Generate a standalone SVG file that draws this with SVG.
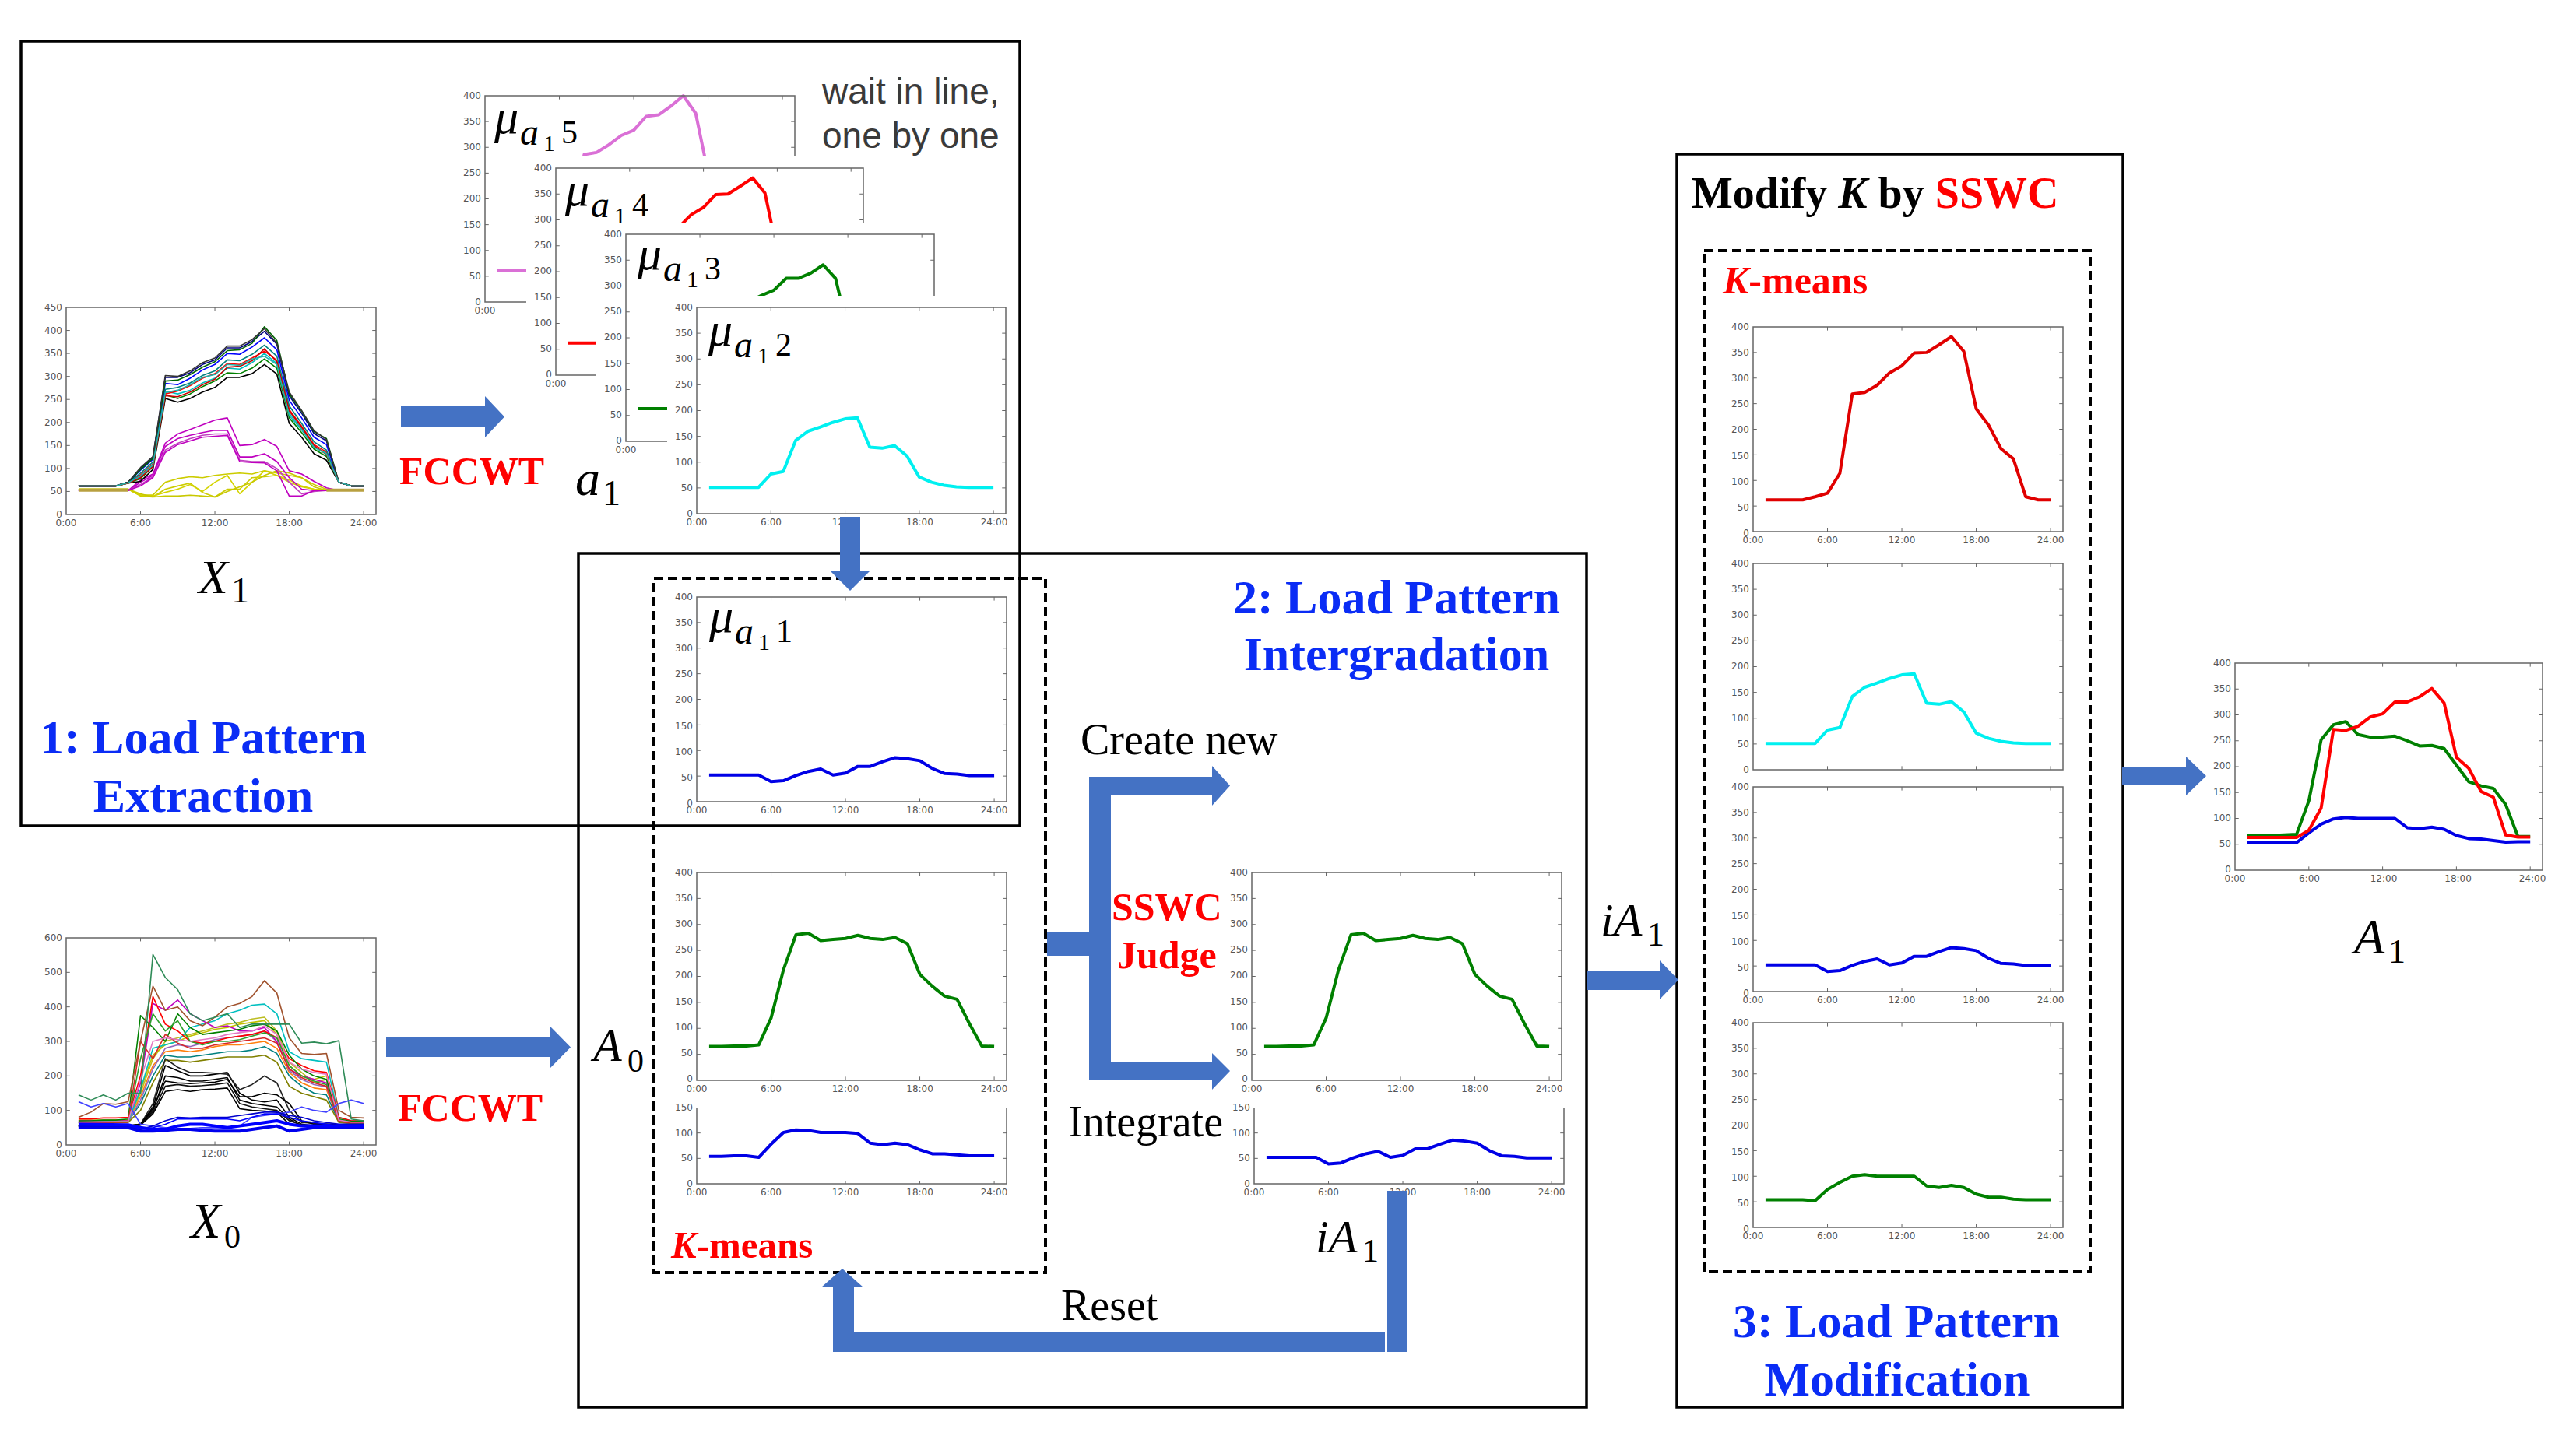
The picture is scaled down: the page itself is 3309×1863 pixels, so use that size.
<svg xmlns="http://www.w3.org/2000/svg" width="3309" height="1863" viewBox="0 0 3309 1863">
<style>
.tl{font-family:"DejaVu Sans",sans-serif;font-size:12px;fill:#555}
.fr{fill:none;stroke:#666;stroke-width:1.5}
.ln{fill:none;stroke-width:1.6;vector-effect:non-scaling-stroke;stroke-linejoin:round}
.lw{fill:none;stroke-width:4;vector-effect:non-scaling-stroke;stroke-linejoin:round}
.box{fill:none;stroke:#000;stroke-width:3.5}
.dash{fill:none;stroke:#000;stroke-width:4;stroke-dasharray:12 6}
.arr{fill:#4472c4}
.mi{font-family:"Liberation Serif",serif;font-style:italic;fill:#000}
.mr{font-family:"Liberation Serif",serif;fill:#000}
.ttl{font-family:"Liberation Serif",serif;font-weight:bold;font-size:62px;fill:#0a2cf5;text-anchor:middle}
.red{font-family:"Liberation Serif",serif;font-weight:bold;fill:#f00}
.txt{font-family:"Liberation Serif",serif;font-size:56px;fill:#000}
</style>
<defs>
<path id="tk400" fill="none" stroke="#666" stroke-width="1" vector-effect="non-scaling-stroke" d="M0,50h.3M0,100h.3M0,150h.3M0,200h.3M0,250h.3M0,300h.3M0,350h.3M25,50h-.3M25,100h-.3M25,150h-.3M25,200h-.3M25,250h-.3M25,300h-.3M25,350h-.3M6,0v7M12,0v7M18,0v7M24,0v7M6,400v-7M12,400v-7M18,400v-7M24,400v-7"/>
<path id="tk450" fill="none" stroke="#666" stroke-width="1" vector-effect="non-scaling-stroke" d="M0,50h.3M0,100h.3M0,150h.3M0,200h.3M0,250h.3M0,300h.3M0,350h.3M0,400h.3M25,50h-.3M25,100h-.3M25,150h-.3M25,200h-.3M25,250h-.3M25,300h-.3M25,350h-.3M25,400h-.3M6,0v8M12,0v8M18,0v8M24,0v8M6,450v-8M12,450v-8M18,450v-8M24,450v-8"/>
<path id="tk600" fill="none" stroke="#666" stroke-width="1" vector-effect="non-scaling-stroke" d="M0,100h.3M0,200h.3M0,300h.3M0,400h.3M0,500h.3M25,100h-.3M25,200h-.3M25,300h-.3M25,400h-.3M25,500h-.3M6,0v10M12,0v10M18,0v10M24,0v10M6,600v-10M12,600v-10M18,600v-10M24,600v-10"/>
<path id="tk150" fill="none" stroke="#666" stroke-width="1" vector-effect="non-scaling-stroke" d="M0,50h.3M0,100h.3M25,50h-.3M25,100h-.3M6,0v6M12,0v6M18,0v6M24,0v6"/>
<g id="yl400" class="tl" text-anchor="end"><text x="-5" y="269">0</text><text x="-5" y="236">50</text><text x="-5" y="203">100</text><text x="-5" y="170">150</text><text x="-5" y="136">200</text><text x="-5" y="103">250</text><text x="-5" y="70">300</text><text x="-5" y="37">350</text><text x="-5" y="4">400</text></g>
<g id="yl450" class="tl" text-anchor="end"><text x="-5" y="270">0</text><text x="-5" y="240">50</text><text x="-5" y="211">100</text><text x="-5" y="181">150</text><text x="-5" y="152">200</text><text x="-5" y="122">250</text><text x="-5" y="93">300</text><text x="-5" y="63">350</text><text x="-5" y="34">400</text><text x="-5" y="4">450</text></g>
<g id="yl600" class="tl" text-anchor="end"><text x="-5" y="270">0</text><text x="-5" y="226">100</text><text x="-5" y="181">200</text><text x="-5" y="137">300</text><text x="-5" y="93">400</text><text x="-5" y="48">500</text><text x="-5" y="4">600</text></g>
<g id="yl150" class="tl" text-anchor="end"><text x="-5" y="102">0</text><text x="-5" y="69">50</text><text x="-5" y="37">100</text><text x="-5" y="4">150</text></g>
<g id="xl" class="tl" text-anchor="middle"><text x="0">0:00</text><text x="95.5">6:00</text><text x="191">12:00</text><text x="286.6">18:00</text><text x="382">24:00</text></g>
</defs>
<rect width="3309" height="1863" fill="#fff"/>

<!-- Stage 1 -->
<g id="stage1-box"><rect class="box" x="27" y="53" width="1283" height="1008"/></g>

<g id="chart-x1">
<svg x="85" y="395" width="398" height="266" viewBox="0 0 25 450" preserveAspectRatio="none" overflow="visible">
<g transform="matrix(1 0 0 -1 0 450)">
<use href="#tk450"/>
<polyline class="ln" stroke="#cccc00" points="1,55 5,55 6,42 7,42 8,70 9,78 10,82 11,80 12,85 13,88 14,90 15,88 16,95 17,90 18,85 19,80 20,65 21,55 22,52 24,52"/>
<polyline class="ln" stroke="#cccc00" points="1,55 5,55 6,40 7,38 8,55 9,62 10,68 11,48 12,38 13,55 14,55 15,80 16,82 17,85 18,70 19,60 20,55 22,52 24,52"/>
<polyline class="ln" stroke="#d4d400" points="1,55 5,55 6,42 7,40 8,48 9,55 10,65 11,50 12,70 13,85 14,45 15,70 16,95 17,85 18,75 19,62 20,55 22,52 24,52"/>
<polyline class="ln" stroke="#c8c800" points="1,55 5,55 6,45 7,38 8,40 9,40 10,42 11,40 12,38 13,50 14,60 15,70 16,85 17,95 18,90 19,80 20,60 21,52 24,52"/>
<polyline class="ln" stroke="#bf00bf" points="1,52 5,52 6,75 7,88 8,155 9,175 10,185 11,195 12,205 13,210 14,150 15,152 16,163 17,148 18,95 19,88 20,72 21,58 22,52 24,52"/>
<polyline class="ln" stroke="#bf00bf" points="1,52 5,52 6,70 7,85 8,148 9,165 10,172 11,178 12,183 13,183 14,125 15,125 16,132 17,115 18,80 19,55 20,52 24,52"/>
<polyline class="ln" stroke="#c040c0" points="1,52 5,52 6,65 7,82 8,140 9,155 10,165 11,172 12,175 13,175 14,118 15,115 16,115 17,100 18,70 19,45 20,50 21,52 24,52"/>
<polyline class="ln" stroke="#bf00bf" points="1,52 5,52 6,62 7,80 8,135 9,152 10,160 11,168 12,170 13,172 14,115 15,113 16,112 17,95 18,40 19,40 20,52 24,52"/>
<polyline class="lw" stroke="#b8a040" points="1,53 5,53"/>
<polyline class="lw" stroke="#b8a040" points="21,53 24,53"/>
<polyline class="ln" stroke="#000" points="1,62 4,62 5,68 6,72 7,98 8,252 9,244 10,252 11,266 12,276 13,298 14,298 15,306 16,326 17,305 18,198 19,168 20,132 21,118 22,70 23,62 24,62"/>
<polyline class="ln" stroke="#008000" points="1,62 4,62 5,68 6,78 7,104 8,260 9,252 10,262 11,278 12,290 13,308 14,306 15,318 16,338 17,318 18,210 19,178 20,142 21,126 22,70 23,62 24,62"/>
<polyline class="ln" stroke="#00bfbf" points="1,62 4,62 5,69 6,82 7,106 8,268 9,262 10,270 11,286 12,296 13,318 14,316 15,330 16,350 17,328 18,220 19,186 20,148 21,133 22,70 23,62 24,62"/>
<polyline class="ln" stroke="#ff0000" points="1,62 4,62 5,69 6,86 7,110 8,262 9,268 10,280 11,296 12,306 13,328 14,326 15,340 16,355 17,335 18,228 19,192 20,152 21,136 22,70 23,62 24,62"/>
<polyline class="ln" stroke="#008080" points="1,62 4,62 5,69 6,90 7,114 8,272 9,276 10,286 11,302 12,312 13,336 14,334 15,348 16,368 17,344 18,236 19,198 20,158 21,140 22,70 23,62 24,62"/>
<polyline class="ln" stroke="#0000ff" points="1,62 4,62 5,70 6,96 7,120 8,285 9,282 10,296 11,314 12,326 13,350 14,348 15,364 16,384 17,358 18,248 19,210 20,168 21,152 22,70 23,62 24,62"/>
<polyline class="ln" stroke="#000080" points="1,62 4,62 5,70 6,100 7,125 8,298 9,298 10,308 11,326 12,336 13,362 14,362 15,376 16,398 17,370 18,258 19,220 20,176 21,160 22,70 23,62 24,62"/>
<polyline class="ln" stroke="#006400" points="1,62 4,62 5,70 6,98 7,122 8,290 9,292 10,304 11,320 12,332 13,356 14,358 15,372 16,408 17,378 18,262 19,225 20,180 21,165 22,70 23,62 24,62"/>
<polyline class="ln" stroke="#333" points="1,62 4,62 5,70 6,102 7,126 8,302 9,300 10,312 11,330 12,340 13,366 14,366 15,380 16,404 17,372 18,266 19,226 20,182 21,163 22,70 23,62 24,62"/>
<polyline class="ln" stroke="#cc0000" points="1,62 4,62 5,68 6,80 7,104 8,258 9,256 10,266 11,282 12,294 13,320 14,322 15,334 16,360 17,332 18,225 19,190 20,150 21,130 22,70 23,62 24,62"/>
<polyline class="ln" stroke="#20b2aa" points="1,62 4,62 5,69 6,84 7,108 8,265 9,270 10,282 11,298 12,304 13,326 14,324 15,338 16,344 17,326 18,215 19,184 20,146 21,132 22,70 23,62 24,62"/>
</g></svg>
<rect class="fr" x="85" y="395" width="398" height="266"/>
<use href="#yl450" x="85" y="395"/><use href="#xl" x="85" y="676"/>
</g>

<g id="chart-mu5">
<svg x="623" y="123" width="398" height="265" viewBox="0 0 25 400" preserveAspectRatio="none" overflow="visible">
<g transform="matrix(1 0 0 -1 0 400)"><use href="#tk400"/>
<polyline class="lw" stroke="#da70d6" points="1,62 2,62 3,62 4,62 5,68 6,75 7,120 8,286 9,290 10,305 11,323 12,333 13,360 14,363 15,380 16,400 17,366 18,250 19,215 20,170 21,150 22,70 23,62 24,62"/>
</g></svg>
<rect class="fr" x="623" y="123" width="398" height="265"/>
<use href="#yl400" x="623" y="123"/><use href="#xl" x="623" y="403"/>
<text class="mi" x="635" y="171" font-size="62">μ</text><text class="mi" x="668" y="186" font-size="48">a</text><text class="mr" x="698" y="194" font-size="30">1</text><text class="mr" x="721" y="184" font-size="42">5</text>
</g>

<g id="chart-mu4">
<rect x="676" y="201" width="444" height="304" fill="#fff"/>
<svg x="714" y="216" width="395" height="266" viewBox="0 0 25 400" preserveAspectRatio="none" overflow="visible">
<g transform="matrix(1 0 0 -1 0 400)"><use href="#tk400"/>
<polyline class="lw" stroke="#f00" points="1,62 2,62 3,62 4,62 5,68 6,75 7,114 8,269 9,272 10,286 11,310 12,324 13,349 14,350 15,365 16,381 17,352 18,240 19,208 20,162 21,142 22,68 23,62 24,62"/>
</g></svg>
<rect class="fr" x="714" y="216" width="395" height="266"/>
<use href="#yl400" x="714" y="216"/><use href="#xl" x="714" y="497"/>
<text class="mi" x="726" y="264" font-size="62">μ</text><text class="mi" x="759" y="279" font-size="48">a</text><text class="mr" x="789" y="287" font-size="30">1</text><text class="mr" x="812" y="277" font-size="42">4</text>
</g>

<g id="chart-mu3">
<rect x="766" y="286" width="444" height="309" fill="#fff"/>
<svg x="804" y="301" width="396" height="266" viewBox="0 0 25 400" preserveAspectRatio="none" overflow="visible">
<g transform="matrix(1 0 0 -1 0 400)"><use href="#tk400"/>
<polyline class="lw" stroke="#008000" points="1,63 2,63 3,63 4,63 5,68 6,90 7,120 8,255 9,260 10,270 11,282 12,292 13,315 14,315 15,325 16,341 17,315 18,215 19,180 20,145 21,128 22,68 23,63 24,63"/>
</g></svg>
<rect class="fr" x="804" y="301" width="396" height="266"/>
<use href="#yl400" x="804" y="301"/><use href="#xl" x="804" y="582"/>
<text class="mi" x="819" y="346" font-size="62">μ</text><text class="mi" x="852" y="361" font-size="48">a</text><text class="mr" x="882" y="369" font-size="30">1</text><text class="mr" x="905" y="359" font-size="42">3</text>
</g>

<g id="chart-mu2">
<rect x="857" y="380" width="443" height="300" fill="#fff"/>
<svg x="895" y="395" width="397" height="265" viewBox="0 0 25 400" preserveAspectRatio="none" overflow="visible">
<g transform="matrix(1 0 0 -1 0 400)"><use href="#tk400"/>
<polyline class="lw" stroke="#00f0f0" points="1,51 2,51 3,51 4,51 5,51 6,77 7,82 8,142 9,160 10,168 11,177 12,184 13,186 14,129 15,127 16,132 17,112 18,71 19,61 20,55 21,52 22,51 23,51 24,51"/>
</g></svg>
<rect class="fr" x="895" y="395" width="397" height="265"/>
<use href="#yl400" x="895" y="395"/><use href="#xl" x="895" y="675"/>
<text class="mi" x="910" y="444" font-size="62">μ</text><text class="mi" x="943" y="459" font-size="48">a</text><text class="mr" x="973" y="467" font-size="30">1</text><text class="mr" x="996" y="457" font-size="42">2</text>
</g>

<!-- Stage 2 -->
<g id="stage2-box"><rect class="box" x="743" y="711" width="1295" height="1097" stroke-width="3"/></g>
<g id="kmeans-box"><rect class="dash" x="840" y="743" width="503" height="892"/>
<text class="red" x="862" y="1616" font-size="49"><tspan font-style="italic">K</tspan>-means</text></g>

<g id="chart-mu1">
<svg x="895" y="767" width="398" height="263" viewBox="0 0 25 400" preserveAspectRatio="none" overflow="visible">
<g transform="matrix(1 0 0 -1 0 400)"><use href="#tk400"/>
<polyline class="lw" stroke="#0000e6" points="1,52 2,52 3,52 4,52 5,52 6,39 7,41 8,51 9,59 10,64 11,52 12,56 13,69 14,69 15,78 16,86 17,84 18,80 19,65 20,55 21,54 22,51 23,51 24,51"/>
</g></svg>
<rect class="fr" x="895" y="767" width="398" height="263"/>
<use href="#yl400" x="895" y="767"/><use href="#xl" x="895" y="1045"/>
<text class="mi" x="911" y="812" font-size="62">μ</text><text class="mi" x="944" y="827" font-size="48">a</text><text class="mr" x="974" y="835" font-size="30">1</text><text class="mr" x="997" y="825" font-size="42">1</text>
</g>

<g id="chart-a0-green">
<svg x="895" y="1121" width="398" height="267" viewBox="0 0 25 400" preserveAspectRatio="none" overflow="visible">
<g transform="matrix(1 0 0 -1 0 400)"><use href="#tk400"/>
<polyline class="lw" stroke="#008000" points="1,65 2,65 3,66 4,66 5,68 6,120 7,213 8,280 9,283 10,269 11,271 12,273 13,279 14,273 15,271 16,275 17,263 18,204 19,181 20,162 21,156 22,109 23,66 24,65"/>
</g></svg>
<rect class="fr" x="895" y="1121" width="398" height="267"/>
<use href="#yl400" x="895" y="1121"/><use href="#xl" x="895" y="1403"/>
</g>

<g id="chart-a0-blue">
<svg x="895" y="1423" width="398" height="98" viewBox="0 0 25 150" preserveAspectRatio="none" overflow="visible">
<g transform="matrix(1 0 0 -1 0 150)"><use href="#tk150"/>
<polyline class="lw" stroke="#0000e6" points="1,54 2,54 3,55 4,55 5,52 6,78 7,101 8,106 9,105 10,101 11,101 12,101 13,99 14,80 15,77 16,80 17,77 18,67 19,59 20,59 21,57 22,55 23,55 24,55"/>
</g></svg>
<path class="fr" d="M895,1423V1521H1293V1423"/>
<use href="#yl150" x="895" y="1423"/><use href="#xl" x="895" y="1536"/>
</g>

<g id="chart-ia1-green">
<svg x="1608" y="1121" width="398" height="267" viewBox="0 0 25 400" preserveAspectRatio="none" overflow="visible">
<g transform="matrix(1 0 0 -1 0 400)"><use href="#tk400"/>
<polyline class="lw" stroke="#008000" points="1,65 2,65 3,66 4,66 5,68 6,120 7,213 8,280 9,283 10,269 11,271 12,273 13,279 14,273 15,271 16,275 17,263 18,204 19,181 20,162 21,156 22,109 23,66 24,65"/>
</g></svg>
<rect class="fr" x="1608" y="1121" width="398" height="267"/>
<use href="#yl400" x="1608" y="1121"/><use href="#xl" x="1608" y="1403"/>
</g>

<g id="chart-ia1-blue">
<svg x="1611" y="1423" width="398" height="98" viewBox="0 0 25 150" preserveAspectRatio="none" overflow="visible">
<g transform="matrix(1 0 0 -1 0 150)"><use href="#tk150"/>
<polyline class="lw" stroke="#0000e6" points="1,52 2,52 3,52 4,52 5,52 6,39 7,41 8,51 9,59 10,64 11,52 12,56 13,69 14,69 15,78 16,86 17,84 18,80 19,65 20,55 21,54 22,51 23,51 24,51"/>
</g></svg>
<path class="fr" d="M1611,1423V1521H2009V1423"/>
<use href="#yl150" x="1611" y="1423"/><use href="#xl" x="1611" y="1536"/>
</g>

<!-- Stage 3 -->
<g id="stage3-box"><rect class="box" x="2154" y="198" width="573" height="1610" stroke-width="3.5"/>
<text x="2173" y="267" font-family="Liberation Serif, serif" font-weight="bold" font-size="56"><tspan>Modify </tspan><tspan font-style="italic">K</tspan><tspan> by </tspan><tspan fill="#f00">SSWC</tspan></text></g>
<g id="kmeans-box-2"><rect class="dash" x="2189" y="322" width="496" height="1312"/>
<text class="red" x="2213" y="377" font-size="50"><tspan font-style="italic">K</tspan>-means</text></g>

<g id="chart-red">
<svg x="2252" y="420" width="398" height="263" viewBox="0 0 25 400" preserveAspectRatio="none" overflow="visible">
<g transform="matrix(1 0 0 -1 0 400)"><use href="#tk400"/>
<polyline class="lw" stroke="#e00000" points="1,62 2,62 3,62 4,62 5,68 6,75 7,114 8,269 9,272 10,286 11,310 12,324 13,349 14,350 15,365 16,381 17,352 18,240 19,208 20,162 21,142 22,68 23,62 24,62"/>
</g></svg>
<rect class="fr" x="2252" y="420" width="398" height="263"/>
<use href="#yl400" x="2252" y="420"/><use href="#xl" x="2252" y="698"/>
</g>

<g id="chart-cyan">
<svg x="2252" y="724" width="398" height="265" viewBox="0 0 25 400" preserveAspectRatio="none" overflow="visible">
<g transform="matrix(1 0 0 -1 0 400)"><use href="#tk400"/>
<polyline class="lw" stroke="#00f0f0" points="1,51 2,51 3,51 4,51 5,51 6,77 7,82 8,142 9,160 10,168 11,177 12,184 13,186 14,129 15,127 16,132 17,112 18,71 19,61 20,55 21,52 22,51 23,51 24,51"/>
</g></svg>
<rect class="fr" x="2252" y="724" width="398" height="265"/>
<use href="#yl400" x="2252" y="724"/>
</g>

<g id="chart-blue">
<svg x="2252" y="1011" width="398" height="263" viewBox="0 0 25 400" preserveAspectRatio="none" overflow="visible">
<g transform="matrix(1 0 0 -1 0 400)"><use href="#tk400"/>
<polyline class="lw" stroke="#0000e6" points="1,52 2,52 3,52 4,52 5,52 6,39 7,41 8,51 9,59 10,64 11,52 12,56 13,69 14,69 15,78 16,86 17,84 18,80 19,65 20,55 21,54 22,51 23,51 24,51"/>
</g></svg>
<rect class="fr" x="2252" y="1011" width="398" height="263"/>
<use href="#yl400" x="2252" y="1011"/><use href="#xl" x="2252" y="1289"/>
</g>

<g id="chart-green">
<svg x="2252" y="1314" width="398" height="263" viewBox="0 0 25 400" preserveAspectRatio="none" overflow="visible">
<g transform="matrix(1 0 0 -1 0 400)"><use href="#tk400"/>
<polyline class="lw" stroke="#008000" points="1,54 2,54 3,54 4,54 5,52 6,74 7,88 8,100 9,103 10,100 11,100 12,100 13,100 14,81 15,78 16,82 17,78 18,65 19,59 20,59 21,55 22,54 23,54 24,54"/>
</g></svg>
<rect class="fr" x="2252" y="1314" width="398" height="263"/>
<use href="#yl400" x="2252" y="1314"/><use href="#xl" x="2252" y="1592"/>
</g>

<g id="chart-a1">
<svg x="2871" y="852" width="395" height="266" viewBox="0 0 25 400" preserveAspectRatio="none" overflow="visible">
<g transform="matrix(1 0 0 -1 0 400)"><use href="#tk400"/>
<polyline class="lw" stroke="#0000e6" points="1,54 2,54 3,54 4,54 5,53 6,72 7,89 8,99 9,102 10,100 11,100 12,100 13,100 14,82 15,80 16,83 17,79 18,67 19,61 20,60 21,57 22,54 23,55 24,55"/>
<polyline class="lw" stroke="#008000" points="1,66 2,66 3,67 4,68 5,69 6,134 7,252 8,281 9,287 10,262 11,257 12,257 13,259 14,250 15,240 16,241 17,235 18,203 19,171 20,163 21,158 22,127 23,65 24,65"/>
<polyline class="lw" stroke="#f00" points="1,63 2,63 3,63 4,63 5,63 6,77 7,120 8,272 9,270 10,278 11,296 12,302 13,325 14,325 15,335 16,351 17,323 18,218 19,197 20,152 21,141 22,68 23,64 24,64"/>
</g></svg>
<rect class="fr" x="2871" y="852" width="395" height="266"/>
<use href="#yl400" x="2871" y="852"/><use href="#xl" x="2871" y="1133"/>
</g>

<g id="chart-x0">
<svg x="85" y="1205" width="398" height="266" viewBox="0 0 25 600" preserveAspectRatio="none" overflow="visible">
<g transform="matrix(1 0 0 -1 0 600)"><use href="#tk600"/>
<polyline class="ln" stroke="#ff7f0e" points="1,68 5,70 6,140 7,230 8,270 9,275 10,270 11,275 12,285 13,290 14,290 15,295 16,300 17,280 18,210 19,180 20,165 21,160 22,70 23,66 24,66"/>
<polyline class="ln" stroke="#008080" points="1,66 5,68 6,120 7,200 8,260 9,255 10,255 11,260 12,265 13,270 14,270 15,275 16,285 17,265 18,200 19,170 20,150 21,145 22,68 23,62 24,62"/>
<polyline class="ln" stroke="#9467bd" points="1,64 5,66 6,130 7,220 8,280 9,290 10,285 11,295 12,305 13,310 14,315 15,320 16,330 17,300 18,215 19,190 20,175 21,168 22,66 23,62 24,62"/>
<polyline class="ln" stroke="#808000" points="1,65 5,65 6,100 7,180 8,245 9,245 10,240 11,245 12,250 13,255 14,255 15,255 16,260 17,240 18,170 19,150 20,140 21,130 22,65 23,62 24,62"/>
<polyline class="ln" stroke="#bcbd22" points="1,72 5,72 6,150 7,250 8,300 9,310 10,320 11,330 12,340 13,350 14,355 15,365 16,370 17,330 18,240 19,210 20,180 21,190 22,75 23,68 24,68"/>
<polyline class="ln" stroke="#c0c000" points="1,70 5,72 6,160 7,260 8,290 9,300 10,315 11,325 12,335 13,340 14,350 15,355 16,360 17,320 18,230 19,200 20,190 21,200 22,72 23,68 24,68"/>
<polyline class="ln" stroke="#bf00bf" points="1,70 5,70 6,180 7,410 8,390 9,420 10,380 11,360 12,340 13,345 14,330 15,330 16,340 17,300 18,220 19,200 20,190 21,180 22,70 23,65 24,65"/>
<polyline class="ln" stroke="#00bfbf" points="1,65 5,68 6,160 7,280 8,290 9,300 10,340 11,350 12,360 13,380 14,390 15,405 16,408 17,380 18,270 19,250 20,245 21,240 22,80 23,70 24,70"/>
<polyline class="ln" stroke="#ff0000" points="1,75 2,75 3,78 4,78 5,80 6,200 7,430 8,350 9,330 10,300 11,295 12,300 13,310 14,315 15,320 16,330 17,310 18,250 19,230 20,215 21,210 22,80 23,70 24,70"/>
<polyline class="ln" stroke="#008000" points="1,70 2,70 3,72 4,72 5,75 6,375 7,340 8,300 9,380 10,340 11,320 12,325 13,330 14,335 15,345 16,350 17,330 18,260 19,220 20,200 21,190 22,75 23,68 24,68"/>
<polyline class="ln" stroke="#2ca02c" points="1,66 5,68 6,250 7,380 8,330 9,360 10,300 11,290 12,300 13,300 14,305 15,315 16,325 17,310 18,230 19,200 20,185 21,175 22,70 23,64 24,64"/>
<polyline class="ln" stroke="#d62728" points="1,64 5,66 6,300 7,250 8,320 9,295 10,280 11,280 12,290 13,295 14,300 15,305 16,310 17,295 18,220 19,195 20,180 21,170 22,68 23,64 24,64"/>
<polyline class="ln" stroke="#e377c2" points="1,66 5,68 6,190 7,300 8,310 9,305 10,300 11,305 12,310 13,320 14,325 15,330 16,345 17,320 18,240 19,220 20,210 21,205 22,72 23,66 24,66"/>
<polyline class="ln" stroke="#a0522d" points="1,80 2,95 3,120 4,118 5,125 6,300 7,460 8,390 9,400 10,360 11,345 12,370 13,400 14,410 15,430 16,476 17,440 18,310 19,265 20,262 21,265 22,100 23,80 24,78"/>
<polyline class="ln" stroke="#2e8b57" points="1,145 2,130 3,145 4,130 5,150 6,150 7,552 8,485 9,450 10,380 11,360 12,370 13,380 14,340 15,350 16,350 17,350 18,350 19,295 20,298 21,293 22,302 23,75 24,70"/>
<polyline class="ln" stroke="#000" points="1,55 5,55 6,60 7,110 8,230 9,215 10,200 11,200 12,205 13,210 14,150 15,130 16,125 17,130 18,80 19,60 20,55 24,55"/>
<polyline class="ln" stroke="#000" points="1,55 5,55 6,58 7,100 8,200 9,195 10,185 11,185 12,190 13,195 14,130 15,120 16,115 17,110 18,75 19,55 24,55"/>
<polyline class="ln" stroke="#111" points="1,55 5,55 6,58 7,95 8,170 9,175 10,170 11,172 12,175 13,180 14,120 15,110 16,105 17,100 18,70 19,58 24,55"/>
<polyline class="ln" stroke="#000" points="1,55 5,55 6,57 7,90 8,155 9,160 10,155 11,160 12,162 13,165 14,105 15,100 16,98 17,95 18,60 19,55 24,55"/>
<polyline class="ln" stroke="#222" points="1,55 5,55 6,60 7,120 8,250 9,225 10,210 11,210 12,208 13,205 14,160 15,175 16,200 17,180 18,100 19,65 24,55"/>
<polyline class="ln" stroke="#000" points="1,55 5,55 6,60 7,105 8,185 9,180 10,178 11,180 12,182 13,190 14,140 15,140 16,150 17,145 18,120 19,70 20,60 24,55"/>
<polyline class="ln" stroke="#4040ff" points="1,125 2,110 3,120 4,110 5,120 6,60 7,55 8,50 9,45 10,48 11,50 12,50 13,50 14,55 15,80 16,85 17,90 18,95 19,110 20,100 21,95 22,120 23,130 24,120"/>
<polyline class="ln" stroke="#0000ff" points="1,50 5,52 6,45 7,50 8,60 9,75 10,75 11,75 12,75 13,75 14,70 15,80 16,90 17,90 18,80 19,70 20,65 21,60 22,55 24,55"/>
<polyline class="lw" stroke="#0000ee" points="1,50 5,50 6,40 7,40 8,42 9,45 10,45 11,42 12,40 13,40 14,40 15,45 16,50 17,55 18,40 19,45 20,50 21,52 22,52 24,52"/>
<polyline class="ln" stroke="#0000cc" points="1,55 5,55 6,45 7,55 8,70 9,80 10,78 11,80 12,80 13,80 14,85 15,90 16,95 17,95 18,85 19,80 20,70 21,65 22,60 24,60"/>
<polyline class="lw" stroke="#0000ff" points="1,60 5,58 6,50 7,45 8,45 9,55 10,60 11,60 12,55 13,50 14,55 15,60 16,65 17,70 18,60 19,55 20,55 24,55"/>
</g></svg>
<rect class="fr" x="85" y="1205" width="398" height="266"/>
<use href="#yl600" x="85" y="1205"/><use href="#xl" x="85" y="1486"/>
</g>

<!-- Connectors -->
<g id="connectors">
<polygon class="arr" points="515,522 623,522 623,509 648,535.5 623,562 623,549 515,549"/>
<polygon class="arr" points="1079,664 1105,664 1105,733 1118,733 1092,759 1066,733 1079,733"/>
<polygon class="arr" points="496,1333 707,1333 707,1319 733,1345.5 707,1372 707,1358 496,1358"/>
<rect class="arr" x="1345" y="1198" width="56" height="30"/>
<path class="arr" d="M1399,998H1557V984L1580,1009.5L1557,1035V1021H1427V1365H1557V1353L1580,1376L1557,1400V1387H1399Z"/>
<rect class="arr" x="1782" y="1530" width="26" height="207"/>
<path class="arr" d="M1779,1711H1097V1654H1109L1082,1630L1055,1654H1070V1737H1779Z"/>
<polygon class="arr" points="2038,1248 2132,1248 2132,1234 2156,1259 2132,1284 2132,1272 2038,1272"/>
<polygon class="arr" points="2726,985 2808,985 2808,972 2834,997 2808,1022 2808,1009 2726,1009"/>
</g>

<!-- Labels -->
<g id="labels">
<text x="1056" y="133" font-family="Liberation Sans, sans-serif" font-size="46" fill="#3a3a3a">wait in line,</text>
<text x="1056" y="190" font-family="Liberation Sans, sans-serif" font-size="46" fill="#3a3a3a">one by one</text>
<text class="red" x="513" y="622" font-size="50">FCCWT</text>
<text class="red" x="511" y="1440" font-size="50">FCCWT</text>
<text class="mi" x="739" y="636" font-size="64">a</text><text class="mr" x="774" y="649" font-size="46">1</text>
<text class="mi" x="255" y="762" font-size="62">X</text><text class="mr" x="297" y="774" font-size="46">1</text>
<text class="mi" x="245" y="1590" font-size="63">X</text><text class="mr" x="288" y="1603" font-size="42">0</text>
<text class="mi" x="762" y="1363" font-size="60">A</text><text class="mr" x="806" y="1377" font-size="42">0</text>
<text class="mi" x="1690" y="1609" font-size="60">iA</text><text class="mr" x="1750" y="1621" font-size="42">1</text>
<text class="mi" x="2056" y="1202" font-size="60">iA</text><text class="mr" x="2116" y="1215" font-size="44">1</text>
<text class="mi" x="3024" y="1225" font-size="64">A</text><text class="mr" x="3068" y="1237" font-size="44">1</text>
<text class="txt" x="1388" y="969">Create new</text>
<text class="txt" x="1372" y="1460">Integrate</text>
<text class="txt" x="1363" y="1696">Reset</text>
<text class="red" x="1428" y="1182" font-size="50">SSWC</text>
<text class="red" x="1435" y="1244" font-size="50">Judge</text>
<text class="ttl" x="261" y="968">1: Load Pattern</text>
<text class="ttl" x="261" y="1043">Extraction</text>
<text class="ttl" x="1794" y="788">2: Load Pattern</text>
<text class="ttl" x="1794" y="861">Intergradation</text>
<text class="ttl" x="2436" y="1718">3: Load Pattern</text>
<text class="ttl" x="2437" y="1793">Modification</text>
</g>
</svg>
